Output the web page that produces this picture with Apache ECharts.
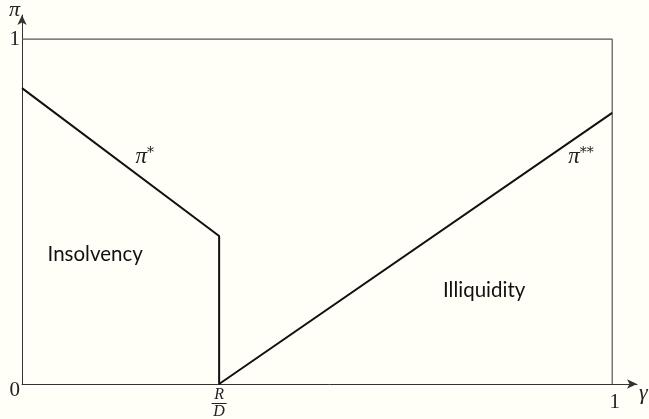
<!DOCTYPE html>
<html><head><meta charset="utf-8">
<script src="https://cdn.jsdelivr.net/npm/echarts@6/dist/echarts.min.js"></script>
<style>html,body{margin:0;padding:0;background:#fffff8;}#c{width:649px;height:419px;}</style>
</head><body><div id="c"></div>
<script>
const curveX = [0, 0.334, 0.334, 1];
const curveY = [0.858, 0.429, 0, 0.786];
const frameX = [0, 1, 1];
const frameY = [1, 1, 0];
const xTickValues = [0.334, 1];
const xTickLabels = ['R/D', '1'];
const yTickValues = [0, 1];
const yTickLabels = ['0', '1'];
const annotations = [
  {x: 0.208, y: 0.658, text: '{p|π}{s|*}'},
  {x: 0.947, y: 0.658, text: '{p|π}{s|**}'},
  {x: 0.124, y: 0.377, text: '{t|Insolvency}'},
  {x: 0.783, y: 0.272, text: '{t|Illiquidity}'}
];

const serif = 'Liberation Serif';
const chart = echarts.init(document.getElementById('c'), null, {renderer: 'canvas'});
const zip = (a, b) => a.map((v, i) => [v, b[i]]);
const findLabel = (vals, labs, v) => {
  for (let i = 0; i < vals.length; i++) if (Math.abs(vals[i] - v) < 1e-6) return labs[i];
  return '';
};
chart.setOption({
  backgroundColor: '#fffff8',
  animation: false,
  grid: {left: 22, right: 12, top: 15, bottom: 35, outerBoundsMode: 'none', containLabel: false},
  xAxis: {
    type: 'value', min: 0, max: 1.042,
    name: 'γ', nameLocation: 'end', nameGap: 2,
    nameTextStyle: {fontFamily: serif, fontStyle: 'italic', fontSize: 22, color: '#222', verticalAlign: 'top', lineHeight: 18},
    axisLine: {show: true, symbol: ['none', 'arrow'], symbolSize: [7, 10], lineStyle: {color: '#333', width: 1}},
    axisTick: {show: false},
    splitLine: {show: false},
    axisLabel: {
      customValues: xTickValues,
      margin: 4,
      formatter: v => {
        const l = findLabel(xTickValues, xTickLabels, v);
        if (l === 'R/D') return '{n|R}\n{bar|}\n{n|D}';
        return '{one|' + l + '}';
      },
      rich: {
        n: {fontFamily: serif, fontStyle: 'italic', fontSize: 16, color: '#222', lineHeight: 14, align: 'center'},
        bar: {width: 15, height: 1, backgroundColor: '#222', align: 'center', lineHeight: 3},
        one: {fontFamily: serif, fontSize: 21, color: '#222', padding: [4, 0, 0, 5]}
      }
    }
  },
  yAxis: {
    type: 'value', min: 0, max: 1.07,
    name: 'π', nameLocation: 'end', nameGap: -6,
    nameTextStyle: {fontFamily: serif, fontStyle: 'italic', fontSize: 22, color: '#222', align: 'right', padding: [0, 2, 0, 0]},
    axisLine: {show: true, symbol: ['none', 'arrow'], symbolSize: [7, 10], lineStyle: {color: '#333', width: 1}},
    axisTick: {show: false},
    splitLine: {show: false},
    axisLabel: {
      customValues: yTickValues,
      margin: 2,
      formatter: v => {
        const l = findLabel(yTickValues, yTickLabels, v);
        return v === 0 ? '{z|' + l + '}' : '{o|' + l + '}';
      },
      rich: {
        z: {fontFamily: serif, fontSize: 21, color: '#222', padding: [12, 0, 0, 0]},
        o: {fontFamily: serif, fontSize: 21, color: '#222'}
      }
    }
  },
  series: [
    {
      type: 'line', data: zip(frameX, frameY), symbol: 'none', silent: true,
      lineStyle: {color: '#555', width: 1.2}
    },
    {
      type: 'line', data: zip(curveX, curveY), symbol: 'none', silent: true,
      lineStyle: {color: '#111', width: 2},
      markPoint: {
        symbol: 'circle', symbolSize: 0, silent: true,
        data: annotations.map(a => ({coord: [a.x, a.y], value: a.text})),
        label: {
          show: true, position: 'inside',
          formatter: p => p.value,
          rich: {
            p: {fontFamily: serif, fontStyle: 'italic', fontSize: 23, color: '#222', lineHeight: 22},
            s: {fontFamily: 'DejaVu Serif', fontSize: 14, color: '#222', lineHeight: 13, verticalAlign: 'top'},
            t: {fontFamily: 'Lato', fontSize: 20.5, color: '#111'}
          }
        }
      }
    }
  ]
});
</script></body></html>
